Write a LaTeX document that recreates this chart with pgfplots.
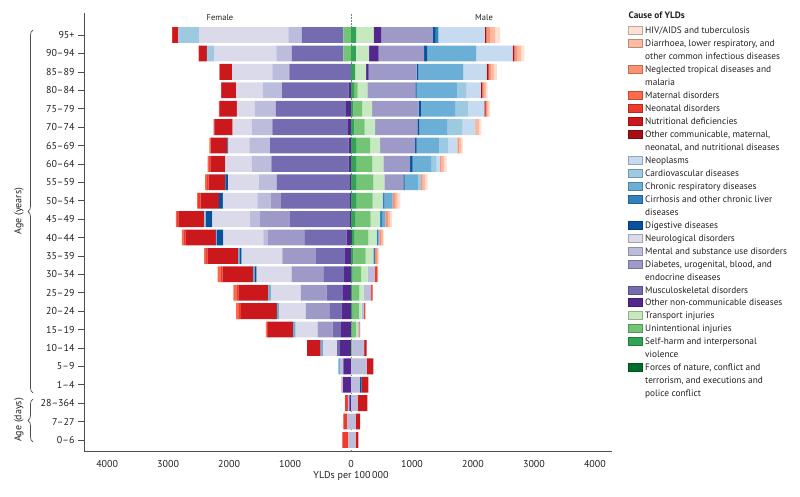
\documentclass[border=0pt]{standalone}
\usepackage{fontspec}
\setmainfont{PT Sans}
\usepackage{pgfplots}
\pgfplotsset{compat=1.18}
\usepackage{pgfplotstable}
\usetikzlibrary{decorations.pathreplacing}

\definecolor{ink}{HTML}{231F20}
\definecolor{axisgray}{HTML}{4D4D4D}
\definecolor{chiv}{HTML}{FEE0D2}
\definecolor{cdiar}{HTML}{FCBBA1}
\definecolor{cntd}{HTML}{FC9272}
\definecolor{cmat}{HTML}{FB6A4A}
\definecolor{cneo}{HTML}{EF3B2C}
\definecolor{cnut}{HTML}{CB181D}
\definecolor{cocmnn}{HTML}{A50F15}
\definecolor{cneopl}{HTML}{C6DBEF}
\definecolor{ccardio}{HTML}{9ECAE1}
\definecolor{cchresp}{HTML}{6BAED6}
\definecolor{ccirr}{HTML}{3182BD}
\definecolor{cdig}{HTML}{08519C}
\definecolor{cneuro}{HTML}{DADAEB}
\definecolor{cmental}{HTML}{BCBDDC}
\definecolor{cdiab}{HTML}{9E9AC8}
\definecolor{cmusc}{HTML}{756BB1}
\definecolor{concd}{HTML}{54278F}
\definecolor{ctrans}{HTML}{C7E9C0}
\definecolor{cunint}{HTML}{74C476}
\definecolor{cself}{HTML}{31A354}
\definecolor{cforces}{HTML}{006D2C}

% YLDs per 100 000, female; y: 0 = 0-6 days ... 22 = 95+
\pgfplotstableread{
y  forces self unint trans oncd musc diab mental neuro dig cirr chresp cardio neopl ocmnn nut neo mat ntd diar hiv
0  0 0 0   0 0   0    0   44  0    0   0 0  0   0 0  0   98 0  0 0 0
1  0 0 0   0 0   0    0   60  0    0   0 0  0   0 0  0   66 0  0 0 0
2  0 0 0   0 27  0    0   27  0    0   0 0  0   0 0  0   44 0  0 0 0
3  0 0 0   0 130 0    0   15  0    0   0 0  0   0 0  0   8  0  0 0 0
4  0 0 0   0 126 0    0   55  0    0   0 27 0   0 0  0   0  0  0 0 0
5  0 0 0   0 180 49   0   0   230  0   0 38 0   0 0  222 0  0  0 0 0
6  0 0 0   0 164 137  246 0   361  0   0 44 0   0 0  410 22 11 0 0 0
7  0 0 0   0 153 202  388 0   437  0   0 38 0   0 0  585 38 44 0 0 0
8  0 0 0   0 131 268  426 0   492  0   0 38 0   0 0  492 22 60 0 0 0
9  0 0 0   0 115 339  519 0   574  33  0 27 0   0 0  500 22 60 0 0 0
10 0 0 0   0 98  476  552 0   670  33  0 22 0   0 0  500 27 33 0 0 0
11 0 0 0   0 71  694  595 77  656  104 0 22 0   0 0  500 33 22 0 0 0
12 0 0 0   0 27  973  492 164 618  109 0 0  27  0 0  421 27 16 0 0 0
13 0 0 0   0 27  1120 164 224 568  66  0 0  0   0 0  300 38 16 0 0 0
14 0 0 0   0 27  1192 0   290 508  44  0 0  0   0 0  273 30 30 0 0 0
15 0 0 0   0 38  1268 0   323 432  0   0 0  0   0 0  246 20 24 0 0 0
16 0 0 0   0 38  1290 0   339 344  16  0 0  0   0 0  268 14 13 0 0 0
17 0 0 0   0 49  1241 0   339 312  0   0 0  0   0 0  301 11 0  0 0 0
18 0 0 0   0 82  1153 0   344 295  0   0 0  0   0 0  284 10 0  0 0 0
19 0 0 0   0 38  1093 0   317 437  0   0 0  0   0 0  235 10 0  0 0 0
20 0 0 0   0 0   1011 0   279 661  0   0 0  0   0 0  197 10 0  0 0 0
21 0 0 125 0 0   847  0   251 1022 0   0 0  120 0 0  126 10 0  0 0 0
22 0 0 125 0 0   683  0   219 1465 0   0 0  339 0 0  93  10 0  0 0 0
}\female

% male
\pgfplotstableread{
y  forces self unint trans oncd musc diab mental neuro dig cirr chresp cardio neopl ocmnn nut neo mat ntd diar hiv
0  0  0  0   0   0   0 0   75  0 0  0  0   0   0   0  45  0  0 0  0  0
1  0  0  0   0   0   0 0   75  0 0  0  0   0   0   0  73  0  0 0  0  0
2  0  0  0   0   0   0 0   109 0 0  0  0   0   0   0  160 0  0 0  0  0
3  0  0  0   0   0   0 0   140 0 35 0  0   0   0   0  110 0  0 0  0  0
4  0  0  0   0   0   0 0   257 0 0  0  0   0   0   0  109 0  0 0  0  0
5  0  0  20  0   0   0 0   190 0 0  0  0   0   0   10 35  0  0 0  0  0
6  0  10 75  25  0   0 0   25  0 0  0  0   0   0   0  0   13 0 0  0  0
7  0  16 114 45  0   0 0   40  0 0  0  0   0   0   0  0   20 0 0  0  0
8  0  22 115 71  0   0 0   120 0 0  0  0   0   0   0  0   27 0 0  0  0
9  0  27 140 105 0   0 0   120 0 0  0  0   0   0   0  0   30 0 20 0  0
10 0  38 202 126 0   0 0   0   0 0  27 0   0   0   0  0   0  0 33 20 18
11 16 33 235 137 0   0 0   0   0 0  27 16  0   0   0  0   0  0 38 20 18
12 0  66 257 153 0   0 0   0   0 0  33 55  0   0   0  0   0  0 49 28 27
13 0  93 262 164 0   0 0   0   0 0  33 131 0   0   0  0   0  0 38 44 44
14 0  93 273 180 0   0 312 0   0 22 0  224 44  0   0  0   0  0 27 40 42
15 0  82 268 180 0   0 437 0   0 44 0  301 93  55  0  0   0  0 27 40 42
16 0  82 230 164 0   0 574 0   0 27 0  372 148 148 0  0   0  0 30 30 28
17 0  55 169 169 0   0 694 0   0 33 0  454 257 208 0  0   0  0 22 40 37
18 0  38 142 164 0   0 765 0   0 38 0  558 213 268 22 0   0  0 24 24 23
19 0  49 60  158 0   0 787 0   0 22 0  661 158 235 22 0   0  0 30 30 28
20 0  66 0   180 44  0 787 0   0 27 0  738 0   383 33 0   0  0 44 44 44
21 0  77 0   219 158 0 743 0   0 55 0  798 0   601 27 0   0  0 55 55 55
22 0  82 0   290 126 0 842 0   0 38 55 0   0   760 27 0   0  0 66 82 77
}\male

\pgfplotsset{
  pyramid/.style={
    at={(84pt,45pt)}, anchor=south west,
    scale only axis, width=528pt, height=438pt,
    xmin=-4380, xmax=4280, ymin=-0.6, ymax=23.2,
    xbar stacked, bar width=0.86,
  },
}
\newcommand\legbox[2]{\filldraw[fill=#2, draw=#2!75!black, line width=0.4pt]
  (628.5pt,{465.3pt-12.95pt*#1-4pt}) rectangle ++(14pt,8pt);}
\newcommand\legline[2]{\node[anchor=base west, inner sep=0pt, text=ink,
  font=\fontsize{9.3}{11}\selectfont] at (645pt,{465.3pt-12.95pt*#1-3.3pt}) {#2};}

\begin{document}
\begin{tikzpicture}
\useasboundingbox (0,0) rectangle (800pt,496pt);

\begin{axis}[pyramid,
  axis lines=left, axis line style={-, axisgray, line width=0.8pt},
  tick align=outside, major tick length=6pt,
  ytick={0,...,22},
  yticklabels={0--6,7--27,28--364,1--4,5--9,10--14,15--19,20--24,25--29,30--34,35--39,40--44,45--49,50--54,55--59,60--64,65--69,70--74,75--79,80--84,85--89,90--94,95+},
  xtick={-4000,-3000,-2000,-1000,0,1000,2000,3000,4000},
  xticklabels={4000,3000,2000,1000,0,1000,2000,3000,4000},
  xtick style={draw=none},
  ytick style={axisgray, line width=0.6pt},
  ticklabel style={font=\fontsize{10}{12}\selectfont, text=ink},
]
\pgfplotsinvokeforeach{forces,self,unint,trans,oncd,musc,diab,mental,neuro,dig,cirr,chresp,cardio,neopl,ocmnn,nut,neo,mat,ntd,diar,hiv}{
  \addplot[fill=c#1, draw=none] table[x expr=-\thisrow{#1}, y=y] {\female};
}
\end{axis}

\begin{axis}[pyramid, hide axis]
\pgfplotsinvokeforeach{forces,self,unint,trans,oncd,musc,diab,mental,neuro,dig,cirr,chresp,cardio,neopl,ocmnn,nut,neo,mat,ntd,diar,hiv}{
  \addplot[fill=c#1, draw=none] table[x=#1, y=y] {\male};
}
\draw[gray, line width=0.6pt, dash pattern=on 1.5pt off 1.5pt] (axis cs:0,-0.6) -- (axis cs:0,23.2);
\end{axis}

\node[text=ink, font=\fontsize{8.5}{10}\selectfont] at (220pt,478pt) {Female};
\node[text=ink, font=\fontsize{8.5}{10}\selectfont] at (484pt,478pt) {Male};
\node[text=ink, font=\fontsize{10}{12}\selectfont] at (351pt,20pt) {YLDs per 100\,000};

\draw[axisgray, line width=0.7pt, decorate, decoration={brace, amplitude=5pt}] (33pt,103pt) -- (33pt,466pt);
\draw[axisgray, line width=0.7pt, decorate, decoration={brace, amplitude=5pt}] (33pt,54pt) -- (33pt,97pt);
\node[rotate=90, text=ink, font=\fontsize{10}{12}\selectfont] at (19pt,285pt) {Age (years)};
\node[rotate=90, text=ink, font=\fontsize{10}{12}\selectfont] at (19pt,76pt) {Age (days)};

% legend
\node[anchor=base west, inner sep=0pt, text=ink, font=\fontsize{9.3}{11}\selectfont\bfseries] at (628.5pt,477pt) {Cause of YLDs};
\legbox{0}{chiv}\legline{0}{HIV/AIDS and tuberculosis}
\legbox{1}{cdiar}\legline{1}{Diarrhoea, lower respiratory, and}\legline{2}{other common infectious diseases}
\legbox{3}{cntd}\legline{3}{Neglected tropical diseases and}\legline{4}{malaria}
\legbox{5}{cmat}\legline{5}{Maternal disorders}
\legbox{6}{cneo}\legline{6}{Neonatal disorders}
\legbox{7}{cnut}\legline{7}{Nutritional deficiencies}
\legbox{8}{cocmnn}\legline{8}{Other communicable, maternal,}\legline{9}{neonatal, and nutritional diseases}
\legbox{10}{cneopl}\legline{10}{Neoplasms}
\legbox{11}{ccardio}\legline{11}{Cardiovascular diseases}
\legbox{12}{cchresp}\legline{12}{Chronic respiratory diseases}
\legbox{13}{ccirr}\legline{13}{Cirrhosis and other chronic liver}\legline{14}{diseases}
\legbox{15}{cdig}\legline{15}{Digestive diseases}
\legbox{16}{cneuro}\legline{16}{Neurological disorders}
\legbox{17}{cmental}\legline{17}{Mental and substance use disorders}
\legbox{18}{cdiab}\legline{18}{Diabetes, urogenital, blood, and}\legline{19}{endocrine diseases}
\legbox{20}{cmusc}\legline{20}{Musculoskeletal disorders}
\legbox{21}{concd}\legline{21}{Other non-communicable diseases}
\legbox{22}{ctrans}\legline{22}{Transport injuries}
\legbox{23}{cunint}\legline{23}{Unintentional injuries}
\legbox{24}{cself}\legline{24}{Self-harm and interpersonal}\legline{25}{violence}
\legbox{26}{cforces}\legline{26}{Forces of nature, conflict and}\legline{27}{terrorism, and executions and}\legline{28}{police conflict}
\end{tikzpicture}
\end{document}
